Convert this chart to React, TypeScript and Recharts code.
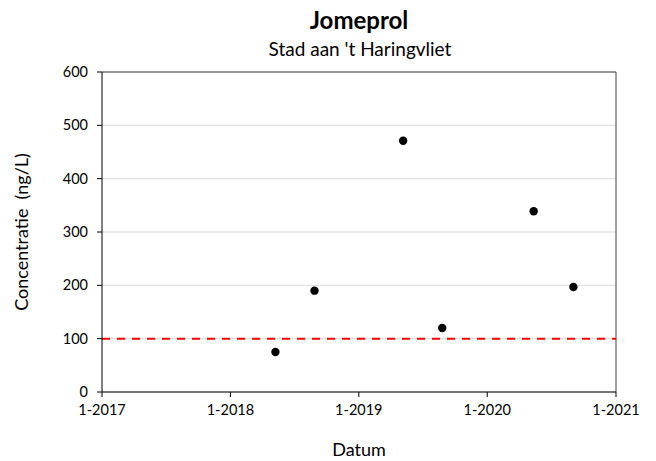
import React from 'react';
import {
  ScatterChart,
  Scatter,
  XAxis,
  YAxis,
  CartesianGrid,
  ReferenceLine,
  Label,
} from 'recharts';

const sampleDates: number[] = [
  Date.UTC(2018, 4, 9),
  Date.UTC(2018, 7, 28),
  Date.UTC(2019, 4, 7),
  Date.UTC(2019, 7, 26),
  Date.UTC(2020, 4, 12),
  Date.UTC(2020, 8, 2),
];
const concentrations: number[] = [75, 190, 471, 120, 339, 197];
const xTicks: number[] = [
  Date.UTC(2017, 0, 1),
  Date.UTC(2018, 0, 1),
  Date.UTC(2019, 0, 1),
  Date.UTC(2020, 0, 1),
  Date.UTC(2021, 0, 1),
];
const yTicks: number[] = [0, 100, 200, 300, 400, 500, 600];
const limitValue = 100;

const data = sampleDates.map((d, i) => ({ date: d, value: concentrations[i] }));

const FONT = 'Lato, "Open Sans", "Liberation Sans", sans-serif';

const fmtDate = (t: number) => {
  const d = new Date(t);
  return `${d.getUTCMonth() + 1}-${d.getUTCFullYear()}`;
};

export default function App() {
  return (
    <div style={{ position: 'absolute', left: 0, top: 0, width: 656, height: 461, background: '#fff' }}>
      <div
        style={{
          position: 'absolute',
          left: 0,
          top: 5,
          width: 718,
          textAlign: 'center',
          fontFamily: FONT,
          fontWeight: 700,
          fontSize: 24,
          lineHeight: '29px',
          color: '#000',
        }}
      >
        Jomeprol
      </div>
      <div
        style={{
          position: 'absolute',
          left: 0,
          top: 37,
          width: 720,
          textAlign: 'center',
          fontFamily: FONT,
          fontSize: 19,
          lineHeight: '23px',
          color: '#000',
        }}
      >
        Stad aan 't Haringvliet
      </div>
      <ScatterChart
        width={656}
        height={461}
        margin={{ top: 72, right: 40, left: 0, bottom: 0 }}
        style={{ fontFamily: FONT }}
      >
        <CartesianGrid horizontal vertical={false} stroke="#d9d9d9" strokeWidth={1} />
        <XAxis
          type="number"
          dataKey="date"
          domain={[xTicks[0], xTicks[xTicks.length - 1]]}
          ticks={xTicks}
          tickFormatter={fmtDate}
          height={69}
          tickSize={5}
          tickMargin={8}
          stroke="#000"
          tick={{ fill: '#000', fontSize: 14.5 }}
          allowDataOverflow
        >
          <Label value="Datum" position="insideBottom" offset={5} style={{ fill: '#000', fontSize: 18 }} />
        </XAxis>
        <YAxis
          type="number"
          dataKey="value"
          domain={[0, 600]}
          ticks={yTicks}
          width={102}
          tickSize={5}
          tickMargin={9}
          stroke="#000"
          tick={{ fill: '#000', fontSize: 14.5 }}
        >
          <Label
            value={'Concentratie\u00a0 (ng/L)'}
            angle={-90}
            position="insideLeft"
            offset={22}
            style={{ textAnchor: 'middle', fill: '#000', fontSize: 18 }}
          />
        </YAxis>
        <ReferenceLine y={600} stroke="#404040" strokeWidth={1} />
        <ReferenceLine x={xTicks[xTicks.length - 1]} stroke="#404040" strokeWidth={1} />
        <ReferenceLine y={limitValue} stroke="#ff0000" strokeWidth={2} strokeDasharray="8 7" />
        <Scatter
          data={data}
          fill="#000"
          isAnimationActive={false}
          shape={(p: any) => <circle cx={p.cx} cy={p.cy} r={4.2} fill="#000" />}
        />
      </ScatterChart>
    </div>
  );
}
